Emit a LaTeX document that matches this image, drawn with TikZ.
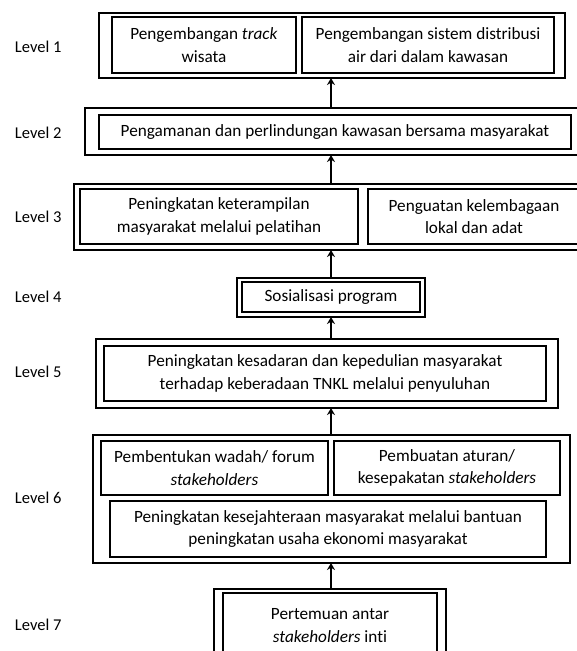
\documentclass[tikz,border=0pt]{standalone}
\usepackage{fontspec}
\setmainfont{Carlito}[Ligatures=NoCommon]
\usetikzlibrary{arrows.meta}

\begin{document}
\begin{tikzpicture}[x=1pt,y=-1pt,
		every node/.style={font=\fontsize{17.2}{22.5}\selectfont, inner sep=0pt, outer sep=0pt},
		frame/.style={draw, line width=1.2pt},
		box/.style={draw, line width=1.8pt, align=center},
		lvl/.style={anchor=west, font=\fontsize{16.5}{22}\selectfont},
		up/.style={line width=1.8pt, -{Stealth[length=7pt,width=8pt]}}]
			\useasboundingbox (0,0) rectangle (577,651);
			\clip (0,0) rectangle (577,651);

			\node(lv1) [lvl] at (15,47) {Level 1};
			\node(lv2) [lvl] at (15,133) {Level 2};
			\node(lv3) [lvl] at (15,217) {Level 3};
			\node(lv4) [lvl] at (15,297) {Level 4};
			\node(lv5) [lvl] at (15,372) {Level 5};
			\node(lv6) [lvl] at (15,498) {Level 6};
			\node(lv7) [lvl] at (15,625) {Level 7};

			\node(f1) [frame, minimum width=466pt, minimum height=65pt] at (332,45.5) {};
			\node(t1a) [box, minimum width=184pt, minimum height=56pt] at (204,45) {Pengembangan \textit{track}\\wisata};
			\node(t1b) [box, minimum width=252pt, minimum height=56pt] at (428,45) {Pengembangan sistem distribusi\\air dari dalam kawasan};

			\node(f2) [frame, minimum width=515pt, minimum height=47pt] at (342.5,131.5) {};
			\node(t2) [box, minimum width=472pt, minimum height=34pt] at (335,132) {Pengamanan dan perlindungan kawasan bersama masyarakat};

			\node(f3) [frame, minimum width=526pt, minimum height=66pt] at (337,217) {};
			\node(t3a) [box, minimum width=278pt, minimum height=55pt] at (219,216.5) {Peningkatan keterampilan\\masyarakat melalui pelatihan};
			\node(t3b) [box, minimum width=212pt, minimum height=55pt] at (474,216.5) {Penguatan kelembagaan\\lokal dan adat};

			\node(f4) [frame, minimum width=188pt, minimum height=39pt] at (331,297.5) {};
			\node(t4) [box, minimum width=178pt, minimum height=30pt] at (331,297) {Sosialisasi program};

			\node(f5) [frame, minimum width=462pt, minimum height=69pt] at (327,373.5) {};
			\node(t5) [box, minimum width=442pt, minimum height=55pt] at (325,373.5) {Peningkatan kesadaran dan kepedulian masyarakat\\terhadap keberadaan TNKL melalui penyuluhan};

			\node(f6) [frame, minimum width=477pt, minimum height=128pt] at (331.5,499) {};
			\node(t6a) [box, minimum width=227pt, minimum height=54pt] at (214.5,468) {Pembentukan wadah/ forum\\\textit{stakeholders}};
			\node(t6b) [box, minimum width=226pt, minimum height=54pt] at (447,468) {Pembuatan aturan/\\kesepakatan \textit{stakeholders}};
			\node(t6c) [box, minimum width=436pt, minimum height=56pt] at (328,529) {Peningkatan kesejahteraan masyarakat melalui bantuan\\peningkatan usaha ekonomi masyarakat};

			\node(f7) [frame, minimum width=232pt, minimum height=81pt] at (330,629.5) {};
			\node(t7) [box, minimum width=214pt, minimum height=65pt] at (330,625.5) {Pertemuan antar\\\textit{stakeholders} inti};

			\coordinate(spine) at (331,0);
			\draw[up] (f2.north -| spine) -- (f1.south -| spine);
			\draw[up] (f3.north -| spine) -- (f2.south -| spine);
			\draw[up] (f4.north -| spine) -- (f3.south -| spine);
			\draw[up] (f5.north -| spine) -- (f4.south -| spine);
			\draw[up] (f6.north -| spine) -- (f5.south -| spine);
			\draw[up] (f7.north -| spine) -- (f6.south -| spine);
		\end{tikzpicture}
\end{document}
